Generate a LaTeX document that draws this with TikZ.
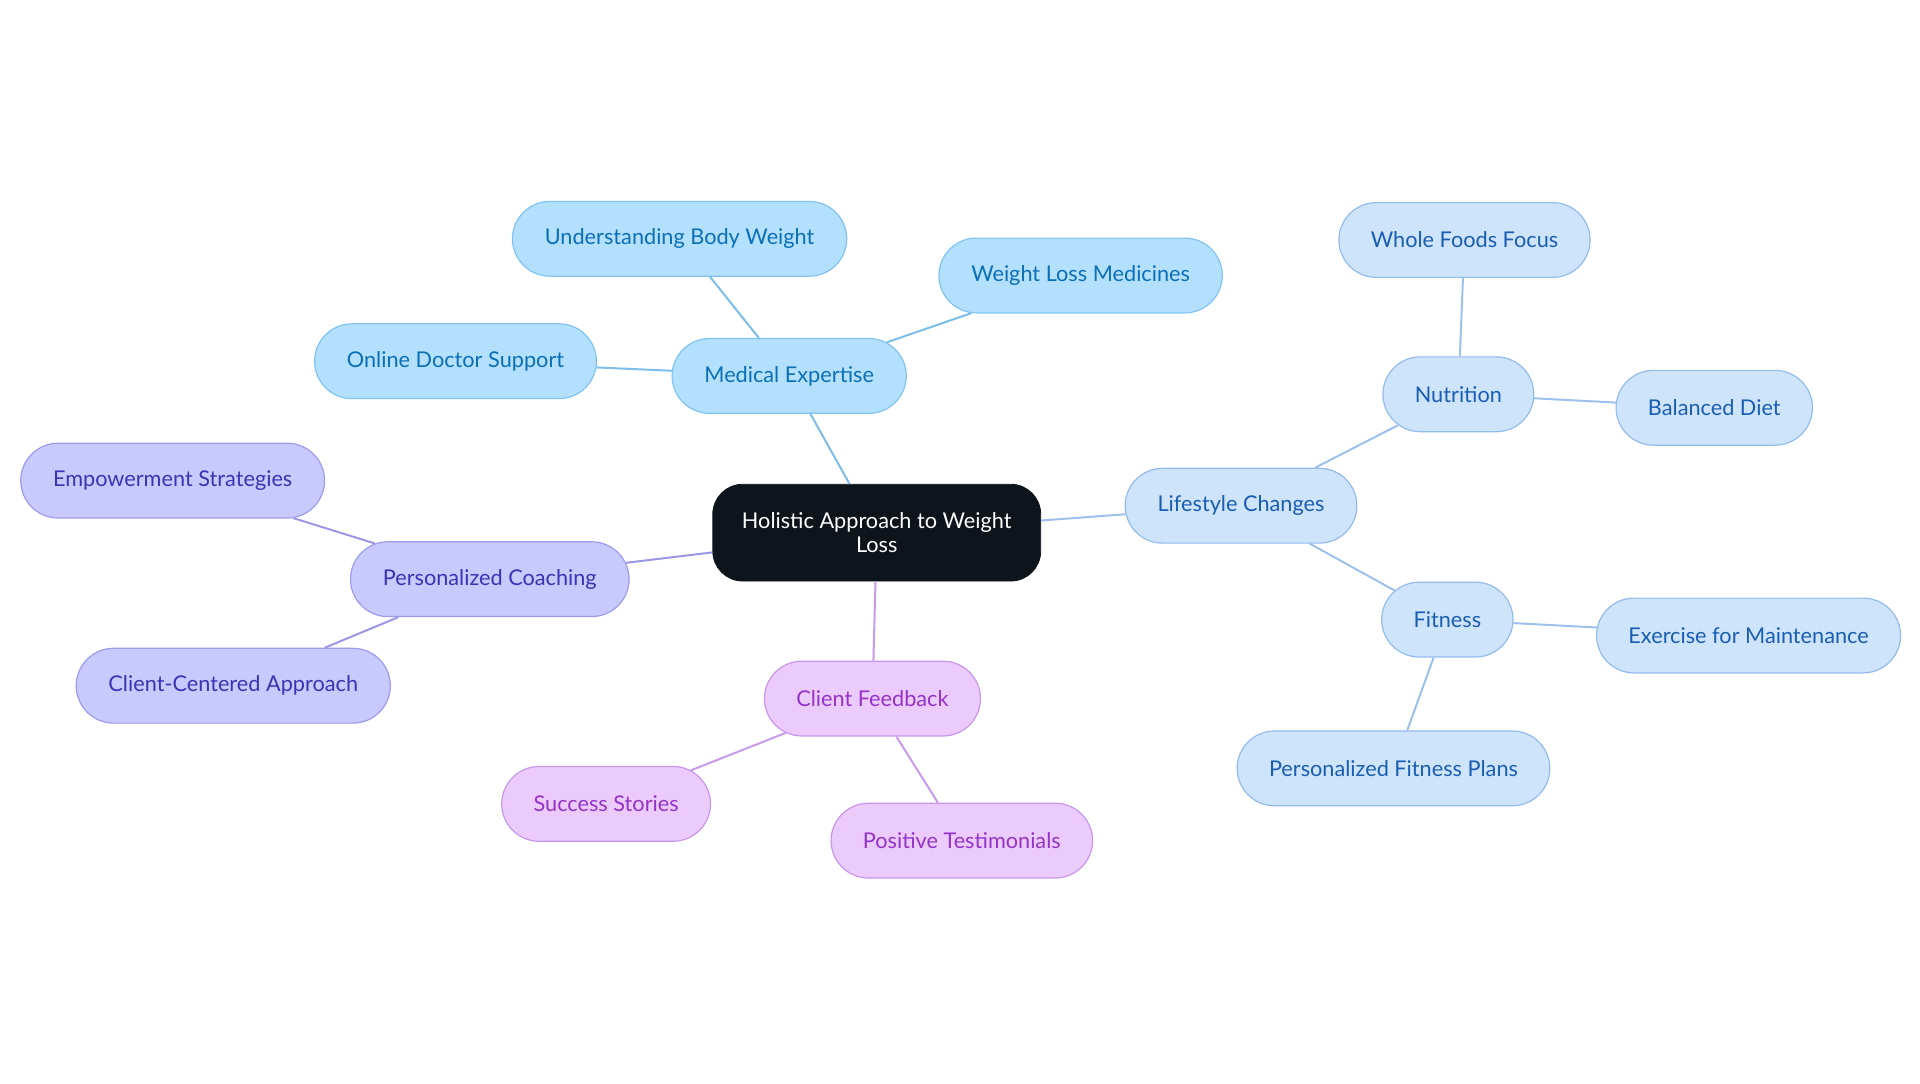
\documentclass[tikz,border=0pt]{standalone}
\usepackage{fontspec}
\setmainfont{Lato}
\usetikzlibrary{shapes.misc}
\definecolor{RootFill}{HTML}{0D141C}
\definecolor{MedFill}{HTML}{B3E0FD}
\definecolor{MedDraw}{HTML}{80C3F4}
\definecolor{MedText}{HTML}{0B6FB8}
\definecolor{MedEdge}{HTML}{7DBDEA}
\definecolor{LifeFill}{HTML}{CDE4FB}
\definecolor{LifeDraw}{HTML}{93BCEC}
\definecolor{LifeText}{HTML}{1A5DB3}
\definecolor{LifeEdge}{HTML}{9CC1EC}
\definecolor{CoachFill}{HTML}{C8C9FC}
\definecolor{CoachDraw}{HTML}{9D9BEE}
\definecolor{CoachText}{HTML}{3A33B5}
\definecolor{CoachEdge}{HTML}{9B97E6}
\definecolor{FeedFill}{HTML}{EBCBFC}
\definecolor{FeedDraw}{HTML}{C996EE}
\definecolor{FeedText}{HTML}{9433C8}
\definecolor{FeedEdge}{HTML}{C89AEB}

\begin{document}
\begin{tikzpicture}[
  x=0.6123pt, y=-0.6123pt,
  topic/.style={rounded rectangle, draw, line width=0.6pt, minimum height=37.4pt,
    inner xsep=15.5pt, font=\fontsize{10.85}{13}\selectfont},
  root/.style={rectangle, rounded corners=15pt, fill=RootFill, draw=RootFill, text=white,
    align=center, minimum width=164pt, minimum height=48.4pt, font=\fontsize{10.85}{11.7}\selectfont},
  med/.style={topic, fill=MedFill, draw=MedDraw, text=MedText},
  life/.style={topic, fill=LifeFill, draw=LifeDraw, text=LifeText},
  coach/.style={topic, fill=CoachFill, draw=CoachDraw, text=CoachText},
  feed/.style={topic, fill=FeedFill, draw=FeedDraw, text=FeedText},
  link/.style={line width=1pt}
]
\useasboundingbox (0,0) rectangle (1568,884.5);

% centre
\node[root] (root) at (716,435) {Holistic Approach to Weight\\Loss};

% medical branch
\node[med] (medical) at (644.5,307) {Medical Expertise};
\node[med] (bodyweight) at (555,195) {Understanding Body Weight};
\node[med] (medicines) at (882.5,225) {Weight Loss Medicines};
\node[med] (doctor) at (372,295) {Online Doctor Support};

% lifestyle branch
\node[life] (lifestyle) at (1013.5,413) {Lifestyle Changes};
\node[life] (nutrition) at (1191,322) {Nutrition};
\node[life] (wholefoods) at (1196,196) {Whole Foods Focus};
\node[life] (diet) at (1400,333) {Balanced Diet};
\node[life] (fitness) at (1182,506) {Fitness};
\node[life] (exercise) at (1428,519) {Exercise for Maintenance};
\node[life] (plans) at (1138,627.5) {Personalized Fitness Plans};

% coaching branch
\node[coach] (coaching) at (400,473) {Personalized Coaching};
\node[coach] (empower) at (141,392.5) {Empowerment Strategies};
\node[coach] (client) at (190.5,560) {Client-Centered Approach};

% feedback branch
\node[feed] (feedback) at (712.5,570.5) {Client Feedback};
\node[feed] (success) at (495,656.5) {Success Stories};
\node[feed] (testimonials) at (785.5,686.5) {Positive Testimonials};

\draw[link, MedEdge] (root) -- (medical);
\draw[link, MedEdge] (medical) -- (bodyweight);
\draw[link, MedEdge] (medical) -- (medicines);
\draw[link, MedEdge] (medical) -- (doctor);
\draw[link, LifeEdge] (root) -- (lifestyle);
\draw[link, LifeEdge] (lifestyle) -- (nutrition);
\draw[link, LifeEdge] (nutrition) -- (wholefoods);
\draw[link, LifeEdge] (nutrition) -- (diet);
\draw[link, LifeEdge] (lifestyle) -- (fitness);
\draw[link, LifeEdge] (fitness) -- (exercise);
\draw[link, LifeEdge] (fitness) -- (plans);
\draw[link, CoachEdge] (root) -- (coaching);
\draw[link, CoachEdge] (coaching) -- (empower);
\draw[link, CoachEdge] (coaching) -- (client);
\draw[link, FeedEdge] (root) -- (feedback);
\draw[link, FeedEdge] (feedback) -- (success);
\draw[link, FeedEdge] (feedback) -- (testimonials);
\end{tikzpicture}
\end{document}
